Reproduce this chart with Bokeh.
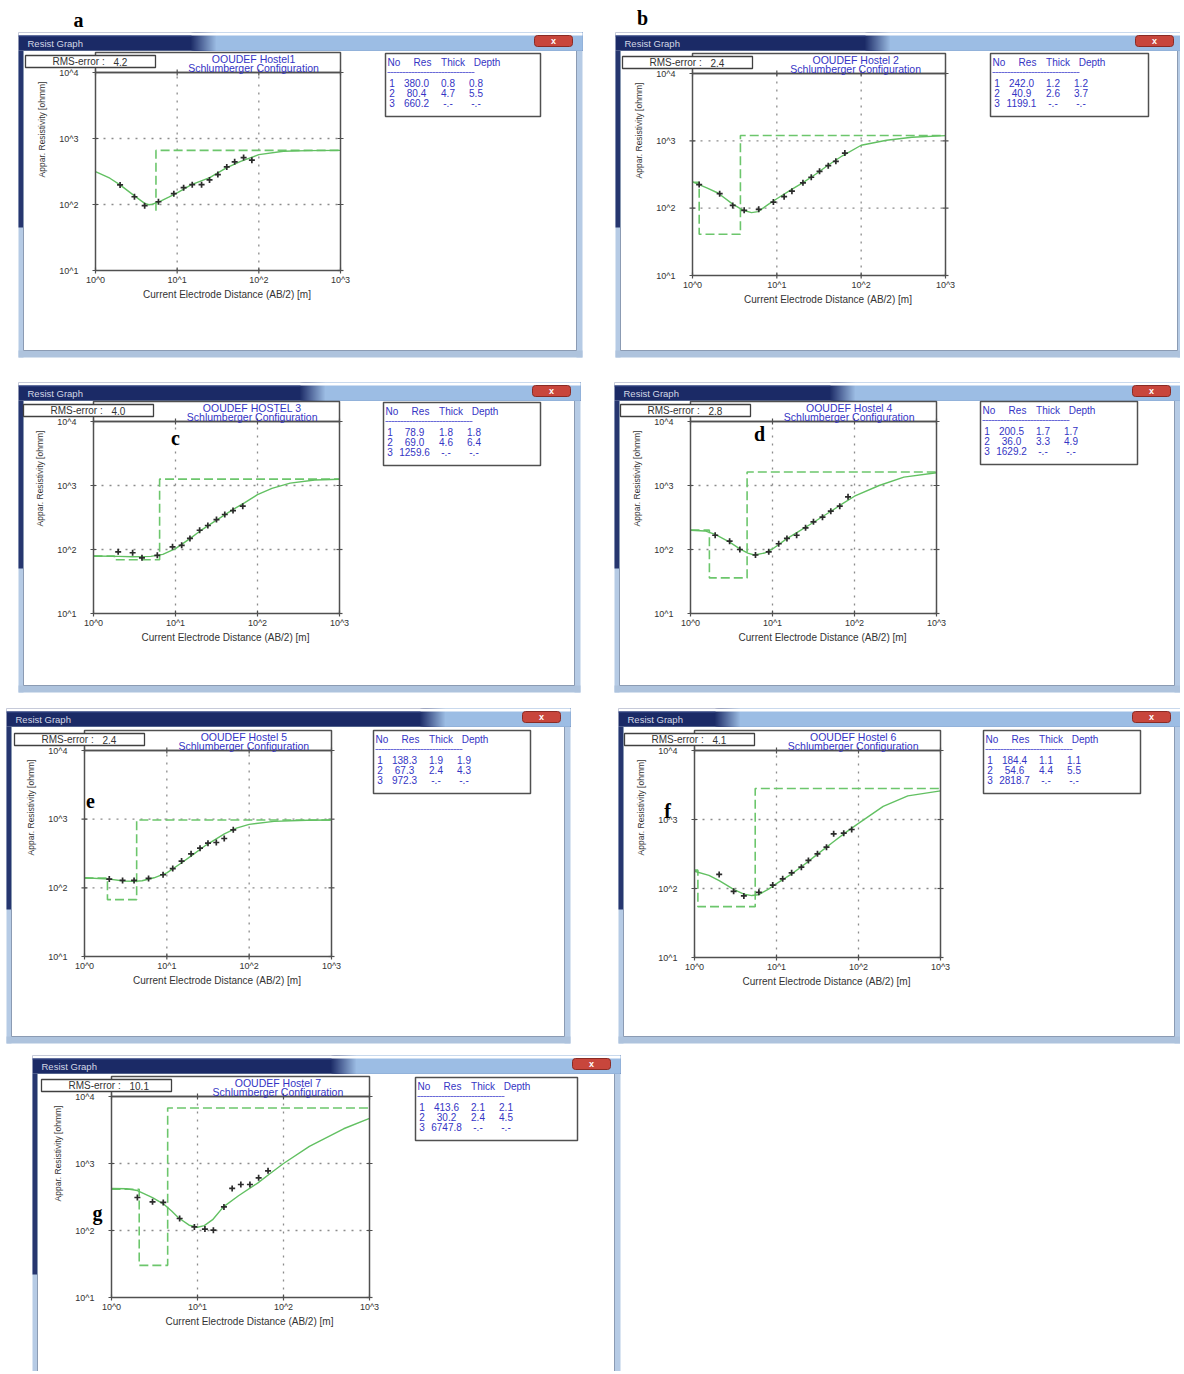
import math
from bokeh.plotting import figure
from bokeh.models import BoxAnnotation, Label, Range1d, LogScale
from bokeh.layouts import column, row
from bokeh.embed import file_html
from bokeh.resources import INLINE

# ---------------------------------------------------------------- data
X_RANGE = (1, 1000)
Y_RANGE = (10, 10000)
X_TICKS = [1, 10, 100, 1000]
X_TICK_LABELS = ["10^0", "10^1", "10^2", "10^3"]
Y_TICKS = [10, 100, 1000, 10000]
Y_TICK_LABELS = ["10^1", "10^2", "10^3", "10^4"]
X_LABEL = "Current Electrode Distance (AB/2) [m]"
Y_LABEL = "Appar. Resistivity [ohmm]"
SUBTITLE = "Schlumberger Configuration"
WINDOW_TITLE = "Resist Graph"
TABLE_HEADER = ["No", "Res", "Thick", "Depth"]

PANEL_KEYS = ["a", "b", "c", "d", "e", "f", "g"]
TITLES = ["OOUDEF Hostel1", "OOUDEF Hostel 2", "OOUDEF HOSTEL 3", "OOUDEF Hostel 4",
          "OOUDEF Hostel 5", "OOUDEF Hostel 6", "OOUDEF Hostel 7"]
RMS_ERRORS = [4.2, 2.4, 4.0, 2.8, 2.4, 4.1, 10.1]

# layer tables (resistivity, thickness, depth)
RES_A = [380.0, 80.4, 660.2];  THICK_A = [0.8, 4.7];  DEPTH_A = [0.8, 5.5]
RES_B = [242.0, 40.9, 1199.1]; THICK_B = [1.2, 2.6];  DEPTH_B = [1.2, 3.7]
RES_C = [78.9, 69.0, 1259.6];  THICK_C = [1.8, 4.6];  DEPTH_C = [1.8, 6.4]
RES_D = [200.5, 36.0, 1629.2]; THICK_D = [1.7, 3.3];  DEPTH_D = [1.7, 4.9]
RES_E = [138.3, 67.3, 972.3];  THICK_E = [1.9, 2.4];  DEPTH_E = [1.9, 4.3]
RES_F = [184.4, 54.6, 2818.7]; THICK_F = [1.1, 4.4];  DEPTH_F = [1.1, 5.5]
RES_G = [413.6, 30.2, 6747.8]; THICK_G = [2.1, 2.4];  DEPTH_G = [2.1, 4.5]

# measured apparent resistivity (AB/2 [m], rho_a [ohmm])
AB2_A = [2.0, 3.0, 4.0, 5.9, 9.1, 12.0, 15.3, 19.9, 24.9, 31.5, 40.5, 50.6, 65.1, 82.2]
RHO_A = [198, 131, 96, 110, 146, 180, 200, 200, 236, 284, 371, 443, 514, 469]
AB2_B = [1.2, 2.1, 3.0, 4.1, 6.1, 9.1, 12.2, 15.1, 20.4, 25.6, 32.1, 40.7, 50.1, 64.1]
RHO_B = [224, 164, 110, 93, 96, 123, 148, 179, 238, 288, 353, 428, 497, 658]
AB2_C = [2.0, 3.0, 3.9, 6.0, 9.2, 11.9, 15.0, 19.7, 24.8, 31.6, 39.9, 50.3, 66.1]
RHO_C = [92, 89, 74, 81, 110, 116, 149, 200, 237, 294, 352, 406, 475]
AB2_D = [2.0, 3.0, 4.0, 6.2, 9.0, 11.9, 15.0, 19.7, 25.3, 31.6, 40.7, 51.4, 66.1, 83.4]
RHO_D = [167, 135, 100, 82, 92, 123, 149, 167, 218, 271, 320, 397, 475, 665]
AB2_E = [2.0, 2.9, 4.0, 6.0, 9.0, 11.8, 15.1, 19.7, 25.3, 31.6, 39.9, 49.8, 64.1]
RHO_E = [134, 128, 128, 137, 155, 191, 245, 313, 378, 447, 457, 523, 700]
AB2_F = [2.0, 3.0, 4.0, 6.1, 9.0, 11.9, 15.3, 20.1, 24.5, 31.6, 40.7, 49.8, 66.1, 82.6]
RHO_F = [160, 91, 78, 88, 112, 138, 169, 204, 255, 318, 397, 619, 634, 716]
AB2_G = [2.0, 3.0, 4.0, 6.2, 9.2, 12.2, 15.3, 20.3, 25.3, 31.9, 40.7, 51.4, 66.1]
RHO_G = [311, 268, 262, 151, 113, 105, 101, 225, 424, 486, 486, 611, 778]

# fitted model curves
FIT_X_A = [1, 1.5, 2, 3, 4, 4.5, 5, 6, 8, 10, 15, 25, 40, 60, 100, 200, 400, 1000]
FIT_Y_A = [315, 250, 198, 135, 104, 99, 101, 110, 130, 150, 200, 255, 360, 450, 570, 640, 655, 660]
FIT_X_B = [1, 1.5, 2, 3, 4, 5, 6, 8, 10, 15, 20, 30, 40, 60, 100, 200, 400, 1000]
FIT_Y_B = [246, 198, 168, 115, 93, 86, 89, 115, 138, 190, 235, 330, 430, 600, 860, 1020, 1130, 1195]
FIT_X_C = [1, 2, 3, 5, 7, 10, 15, 20, 30, 50, 70, 100, 150, 250, 500, 1000]
FIT_Y_C = [79, 78, 77, 78, 84, 103, 148, 195, 275, 420, 540, 720, 900, 1090, 1220, 1255]
FIT_X_D = [1, 1.5, 2, 3, 4, 5, 6, 8, 10, 15, 20, 30, 50, 70, 100, 200, 400, 1000]
FIT_Y_D = [200, 195, 172, 130, 102, 88, 82, 88, 102, 148, 185, 255, 385, 510, 680, 1000, 1350, 1580]
FIT_X_E = [1, 2, 3, 4, 5, 7, 10, 15, 20, 30, 50, 70, 100, 200, 500, 1000]
FIT_Y_E = [140, 134, 126, 124, 127, 140, 165, 230, 295, 420, 610, 740, 840, 930, 965, 972]
FIT_X_F = [1, 1.5, 2, 3, 4, 5, 6, 8, 10, 15, 20, 30, 50, 70, 100, 200, 400, 1000]
FIT_Y_F = [178, 155, 130, 97, 83, 79, 81, 98, 118, 160, 205, 300, 480, 650, 880, 1550, 2200, 2600]
FIT_X_G = [1, 1.5, 2, 3, 4, 5, 6, 8, 10, 12, 15, 20, 30, 50, 70, 100, 200, 500, 1000]
FIT_Y_G = [424, 420, 395, 310, 250, 195, 155, 120, 112, 118, 145, 225, 330, 510, 710, 1000, 1800, 3300, 4700]

RES = [RES_A, RES_B, RES_C, RES_D, RES_E, RES_F, RES_G]
THICK = [THICK_A, THICK_B, THICK_C, THICK_D, THICK_E, THICK_F, THICK_G]
DEPTH = [DEPTH_A, DEPTH_B, DEPTH_C, DEPTH_D, DEPTH_E, DEPTH_F, DEPTH_G]
AB2 = [AB2_A, AB2_B, AB2_C, AB2_D, AB2_E, AB2_F, AB2_G]
RHO = [RHO_A, RHO_B, RHO_C, RHO_D, RHO_E, RHO_F, RHO_G]
FIT_X = [FIT_X_A, FIT_X_B, FIT_X_C, FIT_X_D, FIT_X_E, FIT_X_F, FIT_X_G]
FIT_Y = [FIT_Y_A, FIT_Y_B, FIT_Y_C, FIT_Y_D, FIT_Y_E, FIT_Y_F, FIT_Y_G]

# ---------------------------------------------------------------- layout (page pixels)
LAYOUT = {
    "a": dict(fig=(0, 0, 600, 368), win=(18, 32, 582, 357), frame=(95, 72, 340, 270), table=(385, 53, 155), dark=191, letter=(78, 19)),
    "b": dict(fig=(600, 0, 580, 368), win=(615, 32, 1183, 357), frame=(692, 73, 945, 275), table=(990, 53, 158), dark=865, letter=(642, 17)),
    "c": dict(fig=(0, 368, 600, 332), win=(18, 382, 580, 692), frame=(93, 421, 339, 613), table=(383, 402, 157), dark=300, letter=(175, 437)),
    "d": dict(fig=(600, 368, 580, 332), win=(614, 382, 1180, 692), frame=(690, 421, 936, 613), table=(980, 401, 157), dark=830, letter=(759, 433)),
    "e": dict(fig=(0, 700, 600, 349), win=(6, 708, 570, 1043), frame=(84, 750, 331, 956), table=(373, 730, 157), dark=420, letter=(90, 800)),
    "f": dict(fig=(600, 700, 580, 349), win=(618, 708, 1180, 1043), frame=(694, 750, 940, 957), table=(983, 730, 157), dark=715, letter=(667, 810)),
    "g": dict(fig=(0, 1049, 640, 322), win=(32, 1055, 620, 1420), frame=(111, 1096, 369, 1297), table=(415, 1077, 162), dark=331, letter=(97, 1212)),
}

FONT = "Liberation Sans"
TXT_BLUE = "#3434c4"
AX_TXT = "#333333"
GREEN = "#62c062"
GREEN_DASH = "#6cc66c"
DARK_BAR = (0x1b, 0x2a, 0x66)
LIGHT_BAR = (0x9c, 0xbd, 0xe4)
BORDER = "#b6cbe5"


def hexc(c):
    return "#%02x%02x%02x" % c


def add_box(p, org, x0, y0, x1, y1, fill=None, line=None, lw=1.0, dash="solid", radius=0):
    ox, oy = org
    p.add_layout(BoxAnnotation(
        left=x0 - ox, right=x1 - ox, top=y0 - oy, bottom=y1 - oy,
        left_units="canvas", right_units="canvas", top_units="canvas", bottom_units="canvas",
        fill_color=fill if fill else "white", fill_alpha=1.0 if fill else 0.0,
        line_color=line if line else "white", line_alpha=1.0 if line else 0.0,
        line_width=lw, line_dash=dash, border_radius=radius))


def add_text(p, org, x, y, text, size="10px", color=TXT_BLUE, align="left",
             baseline="middle", font=FONT, style="normal", angle=0.0):
    ox, oy = org
    p.add_layout(Label(x=x - ox, y=y - oy, x_units="canvas", y_units="canvas", text=text,
                       text_font=font, text_font_size=size, text_color=color, angle=angle,
                       text_align=align, text_baseline=baseline, text_font_style=style))


def make_panel(i):
    key = PANEL_KEYS[i]
    lay = LAYOUT[key]
    fx, fy, fw, fh = lay["fig"]
    l, t, r, b = lay["frame"]
    org = (fx, fy)

    # log ranges extended so that X_RANGE / Y_RANGE fall on the plot frame rectangle
    lx0, lx1 = math.log10(X_RANGE[0]), math.log10(X_RANGE[1])
    ly0, ly1 = math.log10(Y_RANGE[0]), math.log10(Y_RANGE[1])
    kx = (lx1 - lx0) / (r - l)
    ky = (ly1 - ly0) / (b - t)
    xr = Range1d(10 ** (lx0 - (l - fx) * kx), 10 ** (lx1 + (fx + fw - r) * kx))
    yr = Range1d(10 ** (ly0 - (fy + fh - b) * ky), 10 ** (ly1 + (t - fy) * ky))

    p = figure(width=fw, height=fh, x_range=Range1d(0, fw), y_range=Range1d(fh, 0),
               x_axis_location=None, y_axis_location=None, min_border=0,
               toolbar_location=None, tools="", output_backend="svg")
    p.extra_x_ranges = {"lx": xr}
    p.extra_y_ranges = {"ly": yr}
    p.extra_x_scales = {"lx": LogScale()}
    p.extra_y_scales = {"ly": LogScale()}
    p.grid.visible = False
    p.outline_line_color = None
    p.background_fill_color = "white"
    p.border_fill_color = "white"
    R = dict(x_range_name="lx", y_range_name="ly")

    # ---- grid (dotted at inner decades) and edge ticks
    gx = X_TICKS[1:-1]
    gy = Y_TICKS[1:-1]
    p.segment(x0=gx, y0=[Y_RANGE[0]] * len(gx), x1=gx, y1=[Y_RANGE[1]] * len(gx),
              line_color="#8c8c8c", line_dash="2 6", line_width=1.3, **R)
    p.segment(x0=[X_RANGE[0]] * len(gy), y0=gy, x1=[X_RANGE[1]] * len(gy), y1=gy,
              line_color="#8c8c8c", line_dash="2 6", line_width=1.3, **R)
    p.scatter(X_TICKS + X_TICKS, [Y_RANGE[0]] * 4 + [Y_RANGE[1]] * 4, marker="dash",
              angle=math.pi / 2, size=6, line_color="#505050", line_width=1.2, **R)
    p.scatter([X_RANGE[0]] * 4 + [X_RANGE[1]] * 4, Y_TICKS + Y_TICKS, marker="dash",
              size=6, line_color="#505050", line_width=1.2, **R)

    # ---- data: layered model (dashed step), fitted curve, measurements
    res, dep = RES[i], DEPTH[i]
    vx = [X_RANGE[0], dep[0], dep[0], dep[1], dep[1], X_RANGE[1]]
    vy = [res[0], res[0], res[1], res[1], res[2], res[2]]
    paths, cur = [], None
    for k in range(len(vx) - 1):
        inside = all(X_RANGE[0] <= v <= X_RANGE[1] for v in (vx[k], vx[k + 1]))
        if inside:
            if cur is None:
                cur = ([vx[k]], [vy[k]])
                paths.append(cur)
            cur[0].append(vx[k + 1])
            cur[1].append(vy[k + 1])
        else:
            cur = None
    if paths:
        p.multi_line(xs=[q[0] for q in paths], ys=[q[1] for q in paths],
                     line_color=GREEN_DASH, line_width=1.6, line_dash="9 4", **R)
    p.line(FIT_X[i], FIT_Y[i], line_color=GREEN, line_width=1.4, **R)
    p.scatter(AB2[i], RHO[i], marker="cross", size=6, line_color="#2b2b2b", line_width=1.7, **R)

    # ---- plot frame and axes text
    add_box(p, org, l, t, r, b, line="#505050", lw=1.5)
    for v, s in zip(X_TICKS, X_TICK_LABELS):
        p.add_layout(Label(x=v, y=b - fy + 9, x_units="data", y_units="canvas", text=s,
                           x_range_name="lx", text_font=FONT, text_font_size="9px",
                           text_color=AX_TXT, text_align="center", text_baseline="middle"))
    for v, s in zip(Y_TICKS, Y_TICK_LABELS):
        p.add_layout(Label(x=l - fx - 17, y=v, x_units="canvas", y_units="data", text=s,
                           y_range_name="ly", text_font=FONT, text_font_size="9px",
                           text_color=AX_TXT, text_align="right", text_baseline="middle"))
    add_text(p, org, (l + r) / 2 + 9, b + 24, X_LABEL, size="10px", color=AX_TXT, align="center")
    add_text(p, org, l - 54, t + 57, Y_LABEL, size="8.5px", color=AX_TXT,
             align="center", angle=math.pi / 2)

    # ---- window chrome
    wx0, wy0, wx1, wy1 = lay["win"]
    add_box(p, org, wx0, wy0 + 18, wx0 + 5, wy1, fill=BORDER)
    add_box(p, org, wx0, wy0 + 18, wx0 + 5, wy0 + int(0.6 * (wy1 - wy0)), fill="#26366f")
    add_box(p, org, wx1 - 6, wy0 + 18, wx1, wy1, fill=BORDER)
    add_box(p, org, wx0, wy1 - 7, wx1, wy1, fill="#aec3dd")
    add_box(p, org, wx0 + 5, wy0 + 18, wx1 - 6, wy1 - 7, line="#8b9bb3", lw=1)
    # title bar: dark left part fading into light blue (overlapping strips, no gaps)
    dark = lay["dark"]
    add_box(p, org, wx0, wy0, wx1, wy0 + 18, fill=hexc(DARK_BAR))
    nstep = 12
    for s in range(nstep + 1):
        tt = (s + 1) / (nstep + 1)
        c = tuple(int(DARK_BAR[j] + (LIGHT_BAR[j] - DARK_BAR[j]) * tt) for j in range(3))
        add_box(p, org, dark + 2 * s, wy0, wx1, wy0 + 18, fill=hexc(c))
    add_box(p, org, wx0, wy0, wx1, wy0 + 3, fill="#ffffff")
    add_box(p, org, wx0, wy0 + 3, dark, wy0 + 4, fill="#3a4c8a")
    add_text(p, org, wx0 + 9, wy0 + 11, WINDOW_TITLE, size="9.5px", color="#d4d8e6")
    add_box(p, org, wx1 - 48, wy0 + 3, wx1 - 10, wy0 + 14, fill="#c8463c", line="#8a2b25", radius=3)
    add_text(p, org, wx1 - 29, wy0 + 8.5, "x", size="9px", color="white", align="center", style="bold")

    # ---- title box, RMS box
    add_box(p, org, l, t - 20, r, t, line="#505050", lw=1.5)
    tcx = l + 0.645 * (r - l)
    add_text(p, org, tcx, t - 13.5, TITLES[i], size="10.5px", align="center")
    add_text(p, org, tcx, t - 4.5, SUBTITLE, size="10.5px", align="center")
    add_box(p, org, l - 70, t - 17, l + 60, t - 5, fill="white", line="#404040", lw=1.3)
    add_text(p, org, l - 43, t - 11, "RMS-error :", size="10px", color=AX_TXT)
    add_text(p, org, l + 18, t - 11, "%.1f" % RMS_ERRORS[i], size="10px", color=AX_TXT)

    # ---- layer table
    tx, ty, tw = lay["table"]
    add_box(p, org, tx, ty, tx + tw, ty + 63, fill="white", line="#505050", lw=1.5)
    add_text(p, org, tx + 2, ty + 8.5, TABLE_HEADER[0], size="10px")
    add_text(p, org, tx + 37, ty + 8.5, TABLE_HEADER[1], size="10px", align="center")
    add_text(p, org, tx + 67.5, ty + 8.5, TABLE_HEADER[2], size="10px", align="center")
    add_text(p, org, tx + 101.5, ty + 8.5, TABLE_HEADER[3], size="10px", align="center")
    add_box(p, org, tx + 2, ty + 19, tx + 89, ty + 19, line="#6a6ad8", lw=1, dash="2 1")
    thick = THICK[i]
    for k in range(3):
        yy = ty + 29 + 10 * k
        add_text(p, org, tx + 6.5, yy, str(k + 1), size="10px", align="center")
        add_text(p, org, tx + 31, yy, "%.1f" % res[k], size="10px", align="center")
        add_text(p, org, tx + 62.5, yy, "%.1f" % thick[k] if k < 2 else "-.-", size="10px", align="center")
        add_text(p, org, tx + 90.5, yy, "%.1f" % dep[k] if k < 2 else "-.-", size="10px", align="center")

    # ---- panel letter
    lx, ly = lay["letter"]
    add_text(p, org, lx, ly, key, size="20px", color="black", align="center",
             font="Liberation Serif", style="bold")
    return p


figs = [make_panel(i) for i in range(7)]
layout = column(row(figs[0], figs[1]), row(figs[2], figs[3]),
                row(figs[4], figs[5]), row(figs[6]))
open("out.html", "w").write(file_html(layout, INLINE))
